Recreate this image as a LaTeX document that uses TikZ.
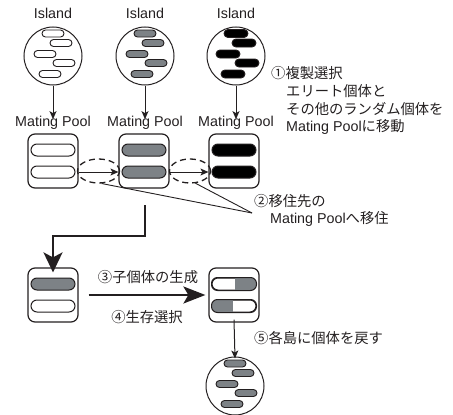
\documentclass[tikz,border=0pt]{standalone}
\usepackage{fontspec}
\setmainfont{Liberation Sans}
\newfontfamily\jp{Noto Sans CJK JP}
\usetikzlibrary{arrows.meta,shapes.geometric}
\definecolor{ink}{HTML}{231F20}
\definecolor{capgray}{RGB}{125,130,134}
\begin{document}
\begin{tikzpicture}[x=1pt,y=-1pt,
  every node/.style={text=ink},
  lbl/.style={font=\fontsize{14.3pt}{16pt}\selectfont, inner sep=1pt},
  jtxt/.style={font=\fontsize{14.3pt}{16pt}\selectfont\jp, inner sep=0pt, anchor=west},
  island/.style={circle, draw=ink, line width=1pt, minimum size=58pt, inner sep=0},
  icap/.style={draw=ink, line width=0.9pt, rounded corners=3.5pt, minimum width=22pt, minimum height=7pt, inner sep=0},
  capw/.style={icap, fill=white},
  capg/.style={icap, fill=capgray},
  capb/.style={icap, fill=black, minimum width=24pt, minimum height=8pt, rounded corners=4pt},
  pool/.style={draw=ink, line width=1.2pt, rounded corners=7pt, minimum width=50pt, minimum height=54pt, inner sep=0},
  pcap/.style={draw=ink, line width=1pt, rounded corners=6pt, minimum width=44pt, minimum height=12pt, inner sep=0},
  capline/.style={draw=ink, line width=1pt, rounded corners=6pt},
  sarrow/.style={draw=ink, line width=1pt, -{Stealth[length=8pt,width=7pt,inset=2pt]}},
  barrow/.style={draw=ink, line width=2.2pt, -{Stealth[length=20pt,width=19pt,inset=5pt]}},
  dashell/.style={ellipse, draw=ink, line width=1.3pt, dash pattern=on 6pt off 4pt, inner sep=0},
  thin/.style={draw=ink, line width=0.9pt}
]
\useasboundingbox (0,0) rectangle (453,415);

% islands
\node[lbl] (t1) at (53,13) {Island};
\node[lbl] (t2) at (145,13) {Island};
\node[lbl] (t3) at (236,13) {Island};
\node[island] (i1) at (53,56) {};
\node[island] (i2) at (145,56) {};
\node[island] (i3) at (236,56) {};
\node[island] (i4) at (235,386) {};
\foreach \n/\cx/\cy/\sty in {1/53/56/capw, 2/145/56/capg, 3/236/56/capb, 4/235/386/capg} {
  \foreach \dx/\dy [count=\k] in {0/-22.5, 8/-13, -8/-2, 11/7, -3/18}
    \node[\sty] (c\n-\k) at (\cx+\dx,\cy+\dy) {};
}

% mating pool labels
\node[lbl] (m1) at (53,123) {Mating Pool};
\node[lbl] (m2) at (145,123) {Mating Pool};
\node[lbl] (m3) at (236,123) {Mating Pool};
\foreach \n in {1,2,3}
  \draw[sarrow] (i\n.south) -- ([yshift=-4pt]m\n.north);

% pools
\node[pool] (p1) at (53,161) {};
\node[pool] (p2) at (144,161) {};
\node[pool] (p3) at (234,161) {};
\node[pcap, fill=white] (p1a) at (53,150) {};
\node[pcap, fill=white] (p1b) at (53,172) {};
\node[pcap, fill=capgray] (p2a) at (144,150) {};
\node[pcap, fill=capgray] (p2b) at (144,172) {};
\node[pcap, fill=black] (p3a) at (234,150) {};
\node[pcap, fill=black] (p3b) at (234,172) {};

% migration
\node[dashell, minimum width=42pt, minimum height=24pt] (e1) at (98.5,171) {};
\node[dashell, minimum width=41pt, minimum height=24pt] (e2) at (190,171) {};
\draw[sarrow] (p1.east |- p1b) -- (p2.west |- p2b);
\draw[sarrow] (p2.east |- p2b) -- (p3.west |- p3b);
\coordinate (cv) at (252,213);
\draw[thin] (e1.-76) -- (cv);
\draw[thin] (e2.-66) -- (cv);

% texts right
\node[jtxt] (s1a) at (271,73) {①複製選択};
\node[jtxt] (s1b) at (286,91) {エリート個体と};
\node[jtxt] (s1c) at (286,109) {その他のランダム個体を};
\node[jtxt] (s1d) at (286,127) {{\rmfamily\fontsize{14.3pt}{16pt}\selectfont Mating Pool}に移動};
\node[jtxt] (s2a) at (254,201) {②移住先の};
\node[jtxt] (s2b) at (270,219) {{\rmfamily\fontsize{14.3pt}{16pt}\selectfont Mating Pool}へ移住};
\node[jtxt] (s5) at (254,338) {⑤各島に個体を戻す};

% lower pools
\node[pool] (p4) at (53,295) {};
\node[pool] (p5) at (234,295) {};
\node[pcap, fill=capgray] (p4a) at (53,284) {};
\node[pcap, fill=white] (p4b) at (53,306) {};
\node[pcap, fill=white] (p5a) at (234,284) {};
\node[pcap, fill=white] (p5b) at (234,306) {};
\begin{scope}
  \clip[rounded corners=6pt] (p5a.north west) rectangle (p5a.south east);
  \fill[capgray] ([xshift=1pt]p5a.north) rectangle (p5a.south east);
\end{scope}
\begin{scope}
  \clip[rounded corners=6pt] (p5b.north west) rectangle (p5b.south east);
  \fill[capgray] (p5b.north west) rectangle ([xshift=-1pt]p5b.south);
\end{scope}
\draw[capline] (p5a.north west) rectangle (p5a.south east);
\draw[capline] (p5b.north west) rectangle (p5b.south east);

% big arrows
\coordinate (Ls) at (145,205);
\coordinate (Lc) at (53,236);
\draw[barrow, line join=miter] (Ls) |- (Lc) -- ([yshift=-5pt]p4.north);
\draw[draw=ink, line width=2.2pt, -{Stealth[length=22pt,width=17pt,inset=5pt]}] ([xshift=10pt]p4.east) -- ([xshift=-3pt]p5.west);
\node[jtxt, anchor=center] (s3) at (148,277) {③子個体の生成};
\node[jtxt, anchor=center] (s4) at (147,317) {④生存選択};

% return arrow
\draw[sarrow] ([yshift=3pt]p5.south) -- ([yshift=-2pt]i4.north);
\end{tikzpicture}
\end{document}
